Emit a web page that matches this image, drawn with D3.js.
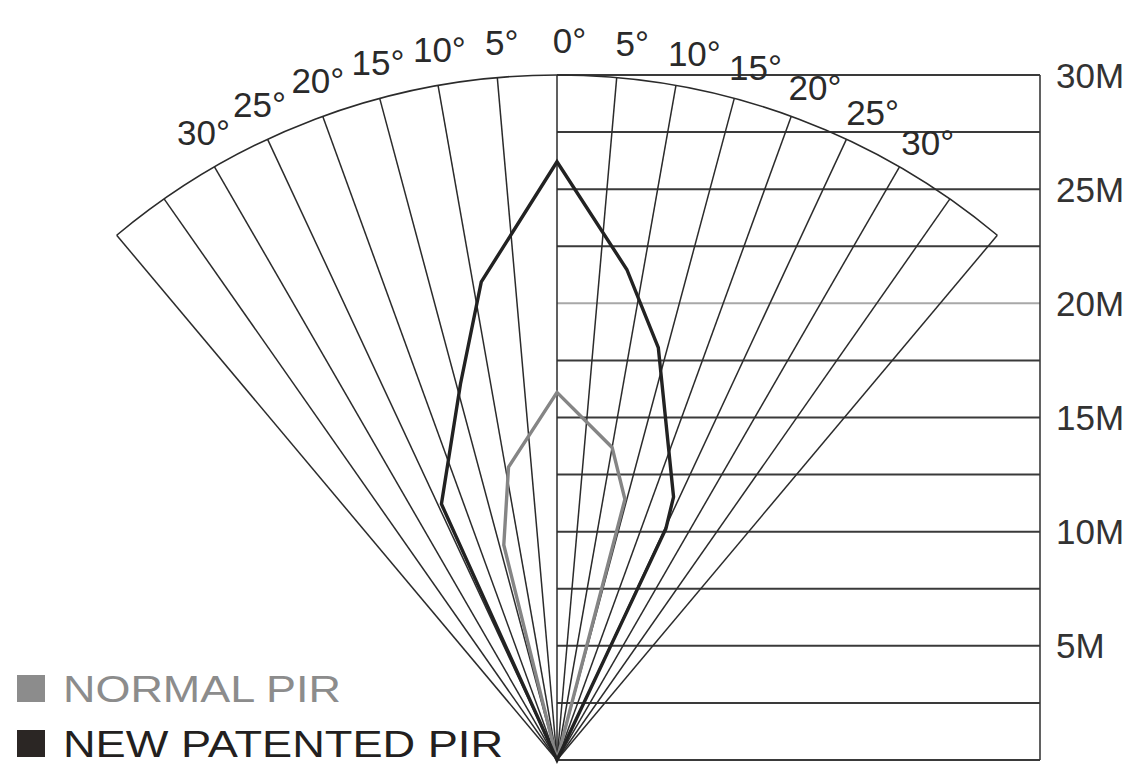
<!DOCTYPE html>
<html>
<head>
<meta charset="utf-8">
<script src="https://cdn.jsdelivr.net/npm/d3@7"></script>
<style>
  html, body { margin: 0; padding: 0; background: #ffffff; }
  svg { display: block; font-family: "Liberation Sans", Arial, sans-serif; }
</style>
</head>
<body>
<svg id="chart" width="1134" height="766"></svg>
<script>
// ---- data ----
const rayAngles = [-40, -35, -30, -25, -20, -15, -10, -5, 0, 5, 10, 15, 20, 25, 30, 35, 40];
const leftLabelAngles = [-30, -25, -20, -15, -10, -5];
const leftLabels = ["30°", "25°", "20°", "15°", "10°", "5°"];
const rightLabelAngles = [0, 5, 10, 15, 20, 25, 30];
const rightLabels = ["0°", "5°", "10°", "15°", "20°", "25°", "30°"];
const gridRanges = [0, 2.5, 5, 7.5, 10, 12.5, 15, 17.5, 20, 22.5, 25, 27.5, 30];
const rangeTicks = [5, 10, 15, 20, 25, 30];
const rangeTickLabels = ["5M", "10M", "15M", "20M", "25M", "30M"];

const seriesNames = ["NORMAL PIR", "NEW PATENTED PIR"];
// polar outline: angle (deg, + = right of centre), range (metres)
const normalAngle = [0, 10.0, 14.6, 0, -13.9, -9.4];
const normalRange = [16.1, 13.9, 11.8, 0, 9.7, 13.0];
const patentedAngle = [0, 8.1, 13.8, 23.9, 25.2, 0, -24.3, -14.4, -9.0];
const patentedRange = [26.2, 21.7, 18.6, 12.6, 11.2, 0, 12.3, 17.0, 21.2];

// ---- layout ----
const cx = 557, cy = 760, R = 685;
const gridRight = 1040;
const toRad = d => d * Math.PI / 180;

const r = d3.scaleLinear().domain([0, 30]).range([0, R]);
const y = v => -r(v);

const svg = d3.select("#chart");
const g = svg.append("g").attr("transform", `translate(${cx},${cy})`);

const lineCol = "#2b2b2b";

// horizontal grid lines (right half)
g.selectAll("line.h").data(gridRanges).join("line")
  .attr("class", "h")
  .attr("x1", 0).attr("x2", gridRight - cx)
  .attr("y1", d => y(d)).attr("y2", d => y(d))
  .attr("stroke", d => d === 20 ? "#a8a8a8" : "#3a3a3a")
  .attr("stroke-width", 2);

// right vertical edge
g.append("line")
  .attr("x1", gridRight - cx).attr("x2", gridRight - cx)
  .attr("y1", y(30)).attr("y2", y(0))
  .attr("stroke", "#3a3a3a").attr("stroke-width", 1.6);

// rays
g.selectAll("line.ray").data(rayAngles).join("line")
  .attr("class", "ray")
  .attr("x1", 0).attr("y1", 0)
  .attr("x2", d => r(30) * Math.sin(toRad(d)))
  .attr("y2", d => -r(30) * Math.cos(toRad(d)))
  .attr("stroke", lineCol).attr("stroke-width", 1.5);

// outer arc
const p = d3.path();
p.arc(0, 0, r(30), toRad(-90 + rayAngles[0]), toRad(-90 + rayAngles[rayAngles.length - 1]));
g.append("path").attr("d", p.toString())
  .attr("fill", "none").attr("stroke", lineCol).attr("stroke-width", 1.6);

// series outlines
const radial = d3.lineRadial()
  .angle(d => toRad(d[0]))
  .radius(d => r(d[1]))
  .curve(d3.curveLinearClosed);

const normalPts = normalAngle.map((a, i) => [a, normalRange[i]]);
const patentedPts = patentedAngle.map((a, i) => [a, patentedRange[i]]);

g.append("path").attr("d", radial(normalPts))
  .attr("fill", "none").attr("stroke", "#858585").attr("stroke-width", 3.4)
  .attr("stroke-linejoin", "miter");
g.append("path").attr("d", radial(patentedPts))
  .attr("fill", "none").attr("stroke", "#222222").attr("stroke-width", 3.4)
  .attr("stroke-linejoin", "miter");

// angle labels
const labR = r(30) + 35;
g.selectAll("text.la").data(leftLabelAngles).join("text")
  .attr("class", "la")
  .attr("x", d => labR * Math.sin(toRad(d + 0.6)))
  .attr("y", d => -labR * Math.cos(toRad(d + 0.6)))
  .attr("text-anchor", "middle").attr("dominant-baseline", "central")
  .attr("font-size", 35).attr("fill", "#2a2a2a")
  .text((d, i) => leftLabels[i]);
g.selectAll("text.ra").data(rightLabelAngles).join("text")
  .attr("class", "ra")
  .attr("x", d => labR * Math.sin(toRad(d + 1)))
  .attr("y", d => -labR * Math.cos(toRad(d + 1)))
  .attr("text-anchor", "middle").attr("dominant-baseline", "central")
  .attr("font-size", 35).attr("fill", "#2a2a2a")
  .text((d, i) => rightLabels[i]);

// range labels
g.selectAll("text.rl").data(rangeTicks).join("text")
  .attr("class", "rl")
  .attr("x", gridRight - cx + 16)
  .attr("y", d => y(d))
  .attr("dominant-baseline", "central")
  .attr("font-size", 35).attr("fill", "#333")
  .text((d, i) => rangeTickLabels[i]);

// legend
const legendColors = ["#8c8c8c", "#2b2624"];
const legendTextColors = ["#8c8c8c", "#231f20"];
const legendWidths = [278, 440];
const leg = svg.append("g").attr("transform", "translate(17,675)");
const items = leg.selectAll("g").data(seriesNames).join("g")
  .attr("transform", (d, i) => `translate(0,${i * 55})`);
items.append("rect").attr("x", 0).attr("y", 0).attr("width", 28).attr("height", 27)
  .attr("fill", (d, i) => legendColors[i]);
items.append("text").attr("x", 46).attr("y", 27)
  .attr("font-size", 36)
  .attr("textLength", (d, i) => legendWidths[i])
  .attr("lengthAdjust", "spacingAndGlyphs")
  .attr("fill", (d, i) => legendTextColors[i])
  .text(d => d);
</script>
</body>
</html>
